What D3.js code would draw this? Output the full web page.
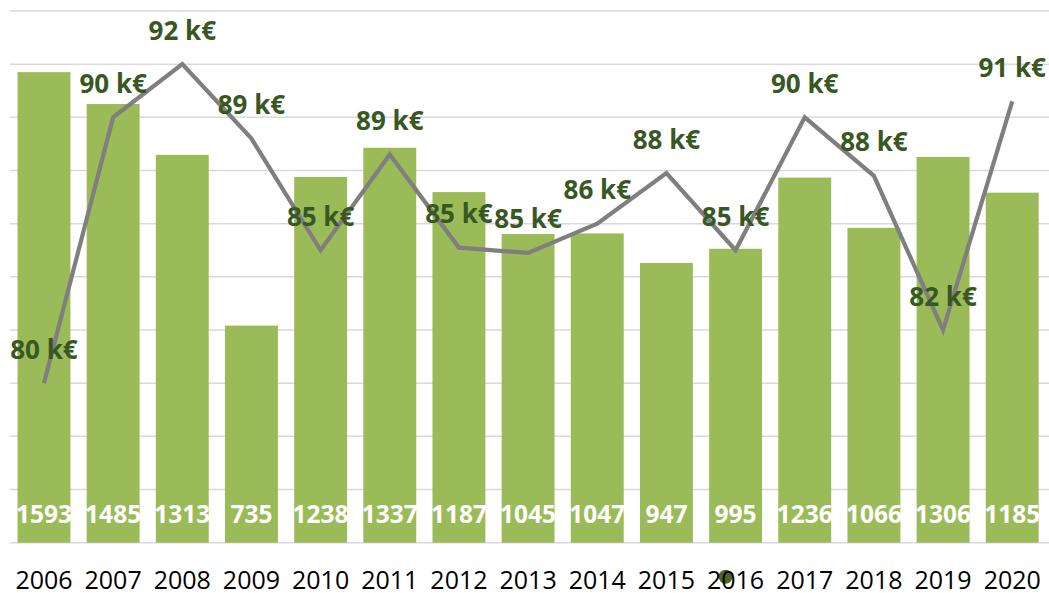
<!DOCTYPE html>
<html><head><meta charset="utf-8">
<script src="https://cdn.jsdelivr.net/npm/d3@7"></script>
<style>html,body{margin:0;padding:0;background:#fff;}svg{display:block;}</style>
</head><body>
<svg id="chart" width="1049" height="593"></svg>
<script>
const years = ["2006","2007","2008","2009","2010","2011","2012","2013","2014","2015","2016","2017","2018","2019","2020"];
const counts = [1593,1485,1313,735,1238,1337,1187,1045,1047,947,995,1236,1066,1306,1185];
const salaries = [80.0,90.0,92.0,89.2,85.0,88.6,85.1,84.9,86.0,87.9,85.0,90.0,87.8,82.0,90.6];
const salaryLabels = ["80 k€","90 k€","92 k€","89 k€","85 k€","89 k€","85 k€","85 k€","86 k€","88 k€","85 k€","90 k€","88 k€","82 k€","91 k€"];
const countDomain = [0,1800];
const salaryDomain = [74,94];
const gridTicks = d3.range(74,94.001,2);

const svg = d3.select("#chart");
const W = 1049, H = 593;
const plotTop = 11, plotBottom = 542.7, plotLeft = 9.4, plotRight = 1046.8;

const x = d3.scaleBand().domain(years).range([plotLeft, plotRight]).paddingInner(0.235).paddingOuter(0.1175);
const yBar = d3.scaleLinear().domain(countDomain).range([plotBottom, plotTop]);
const yLine = d3.scaleLinear().domain(salaryDomain).range([plotBottom, plotTop]);
const cx = d => x(d) + x.bandwidth()/2;

// gridlines
svg.append("g").selectAll("line").data(gridTicks).join("line")
  .attr("x1", 10).attr("x2", W)
  .attr("y1", d => yLine(d)).attr("y2", d => yLine(d))
  .attr("stroke", "#d9d9d9").attr("stroke-width", 1.5);

// bars
svg.append("g").selectAll("rect").data(years).join("rect")
  .attr("x", d => x(d)).attr("width", x.bandwidth())
  .attr("y", (d,i) => yBar(counts[i]))
  .attr("height", (d,i) => yBar(0) - yBar(counts[i]))
  .attr("fill", "#9bbb59");

// bar labels
svg.append("g").selectAll("text").data(years).join("text")
  .attr("x", cx)
  .attr("y", plotBottom - 20)
  .attr("text-anchor", "middle")
  .attr("font-family", "Open Sans")
  .attr("font-weight", "bold")
  .attr("font-size", 24.5)
  .attr("fill", "#ffffff")
  .text((d,i) => counts[i]);

// line
const line = d3.line().x((d,i) => cx(years[i])).y(d => yLine(d));
svg.append("path").datum(salaries)
  .attr("d", line).attr("fill", "none")
  .attr("stroke", "#7f7f7f").attr("stroke-width", 4.2).attr("stroke-linejoin", "miter");

// line labels
svg.append("g").selectAll("text").data(salaries).join("text")
  .attr("x", (d,i) => cx(years[i]))
  .attr("y", d => yLine(d) - 24.5)
  .attr("text-anchor", "middle")
  .attr("font-family", "Open Sans")
  .attr("font-weight", "bold")
  .attr("font-size", 26)
  .attr("fill", "#385723")
  .text((d,i) => salaryLabels[i]);

// stray legend marker
svg.append("circle")
  .attr("cx", cx("2016") - 10)
  .attr("cy", 576.7).attr("r", 7)
  .attr("fill", "#4f6228");

// x axis labels
svg.append("g").selectAll("text").data(years).join("text")
  .attr("x", cx)
  .attr("y", 589)
  .attr("text-anchor", "middle")
  .attr("font-family", "Open Sans")
  .attr("font-size", 25)
  .attr("fill", "#000000")
  .text(d => d);
</script>
</body></html>
